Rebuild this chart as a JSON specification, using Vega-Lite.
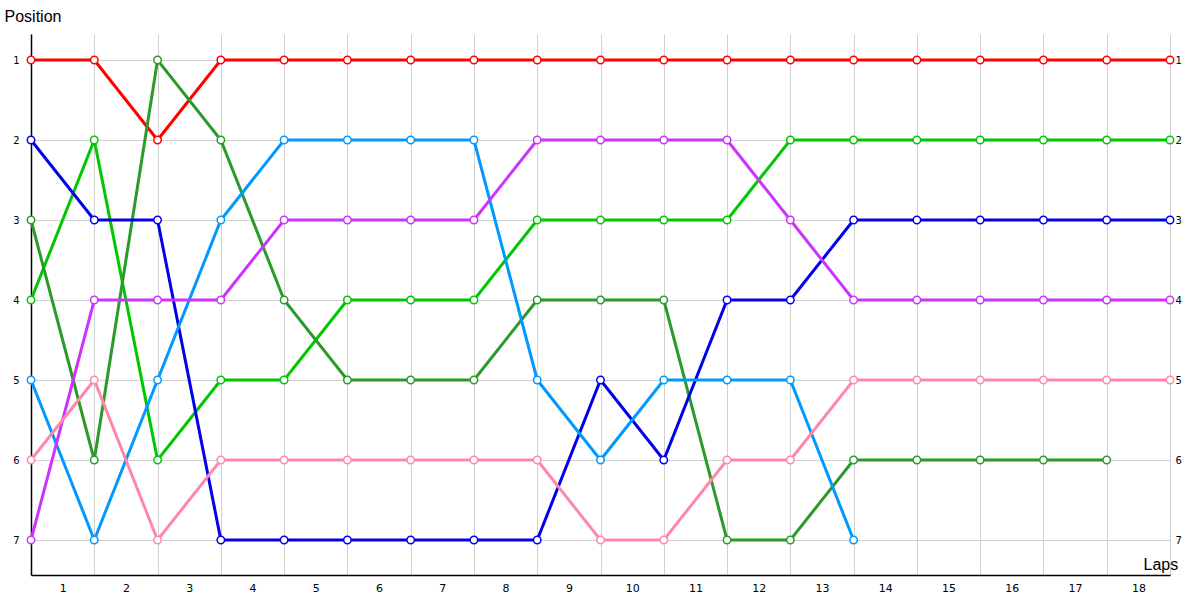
{
  "$schema": "https://vega.github.io/schema/vega-lite/v6.json",
  "width": 1139,
  "height": 541,
  "autosize": {"type": "none"},
  "padding": {"left": 31, "top": 34, "right": 30, "bottom": 25},
  "background": "white",
  "config": {"view": {"stroke": null}},
  "datasets": {
    "laps": [
      {"driver": "A", "lap": 0, "pos": 1}, {"driver": "A", "lap": 1, "pos": 1}, {"driver": "A", "lap": 2, "pos": 2}, {"driver": "A", "lap": 3, "pos": 1}, {"driver": "A", "lap": 4, "pos": 1}, {"driver": "A", "lap": 5, "pos": 1}, {"driver": "A", "lap": 6, "pos": 1}, {"driver": "A", "lap": 7, "pos": 1}, {"driver": "A", "lap": 8, "pos": 1}, {"driver": "A", "lap": 9, "pos": 1}, {"driver": "A", "lap": 10, "pos": 1}, {"driver": "A", "lap": 11, "pos": 1}, {"driver": "A", "lap": 12, "pos": 1}, {"driver": "A", "lap": 13, "pos": 1}, {"driver": "A", "lap": 14, "pos": 1}, {"driver": "A", "lap": 15, "pos": 1}, {"driver": "A", "lap": 16, "pos": 1}, {"driver": "A", "lap": 17, "pos": 1}, {"driver": "A", "lap": 18, "pos": 1},
      {"driver": "B", "lap": 0, "pos": 4}, {"driver": "B", "lap": 1, "pos": 2}, {"driver": "B", "lap": 2, "pos": 6}, {"driver": "B", "lap": 3, "pos": 5}, {"driver": "B", "lap": 4, "pos": 5}, {"driver": "B", "lap": 5, "pos": 4}, {"driver": "B", "lap": 6, "pos": 4}, {"driver": "B", "lap": 7, "pos": 4}, {"driver": "B", "lap": 8, "pos": 3}, {"driver": "B", "lap": 9, "pos": 3}, {"driver": "B", "lap": 10, "pos": 3}, {"driver": "B", "lap": 11, "pos": 3}, {"driver": "B", "lap": 12, "pos": 2}, {"driver": "B", "lap": 13, "pos": 2}, {"driver": "B", "lap": 14, "pos": 2}, {"driver": "B", "lap": 15, "pos": 2}, {"driver": "B", "lap": 16, "pos": 2}, {"driver": "B", "lap": 17, "pos": 2}, {"driver": "B", "lap": 18, "pos": 2},
      {"driver": "C", "lap": 0, "pos": 3}, {"driver": "C", "lap": 1, "pos": 6}, {"driver": "C", "lap": 2, "pos": 1}, {"driver": "C", "lap": 3, "pos": 2}, {"driver": "C", "lap": 4, "pos": 4}, {"driver": "C", "lap": 5, "pos": 5}, {"driver": "C", "lap": 6, "pos": 5}, {"driver": "C", "lap": 7, "pos": 5}, {"driver": "C", "lap": 8, "pos": 4}, {"driver": "C", "lap": 9, "pos": 4}, {"driver": "C", "lap": 10, "pos": 4}, {"driver": "C", "lap": 11, "pos": 7}, {"driver": "C", "lap": 12, "pos": 7}, {"driver": "C", "lap": 13, "pos": 6}, {"driver": "C", "lap": 14, "pos": 6}, {"driver": "C", "lap": 15, "pos": 6}, {"driver": "C", "lap": 16, "pos": 6}, {"driver": "C", "lap": 17, "pos": 6},
      {"driver": "D", "lap": 0, "pos": 2}, {"driver": "D", "lap": 1, "pos": 3}, {"driver": "D", "lap": 2, "pos": 3}, {"driver": "D", "lap": 3, "pos": 7}, {"driver": "D", "lap": 4, "pos": 7}, {"driver": "D", "lap": 5, "pos": 7}, {"driver": "D", "lap": 6, "pos": 7}, {"driver": "D", "lap": 7, "pos": 7}, {"driver": "D", "lap": 8, "pos": 7}, {"driver": "D", "lap": 9, "pos": 5}, {"driver": "D", "lap": 10, "pos": 6}, {"driver": "D", "lap": 11, "pos": 4}, {"driver": "D", "lap": 12, "pos": 4}, {"driver": "D", "lap": 13, "pos": 3}, {"driver": "D", "lap": 14, "pos": 3}, {"driver": "D", "lap": 15, "pos": 3}, {"driver": "D", "lap": 16, "pos": 3}, {"driver": "D", "lap": 17, "pos": 3}, {"driver": "D", "lap": 18, "pos": 3},
      {"driver": "E", "lap": 0, "pos": 5}, {"driver": "E", "lap": 1, "pos": 7}, {"driver": "E", "lap": 2, "pos": 5}, {"driver": "E", "lap": 3, "pos": 3}, {"driver": "E", "lap": 4, "pos": 2}, {"driver": "E", "lap": 5, "pos": 2}, {"driver": "E", "lap": 6, "pos": 2}, {"driver": "E", "lap": 7, "pos": 2}, {"driver": "E", "lap": 8, "pos": 5}, {"driver": "E", "lap": 9, "pos": 6}, {"driver": "E", "lap": 10, "pos": 5}, {"driver": "E", "lap": 11, "pos": 5}, {"driver": "E", "lap": 12, "pos": 5}, {"driver": "E", "lap": 13, "pos": 7},
      {"driver": "F", "lap": 0, "pos": 7}, {"driver": "F", "lap": 1, "pos": 4}, {"driver": "F", "lap": 2, "pos": 4}, {"driver": "F", "lap": 3, "pos": 4}, {"driver": "F", "lap": 4, "pos": 3}, {"driver": "F", "lap": 5, "pos": 3}, {"driver": "F", "lap": 6, "pos": 3}, {"driver": "F", "lap": 7, "pos": 3}, {"driver": "F", "lap": 8, "pos": 2}, {"driver": "F", "lap": 9, "pos": 2}, {"driver": "F", "lap": 10, "pos": 2}, {"driver": "F", "lap": 11, "pos": 2}, {"driver": "F", "lap": 12, "pos": 3}, {"driver": "F", "lap": 13, "pos": 4}, {"driver": "F", "lap": 14, "pos": 4}, {"driver": "F", "lap": 15, "pos": 4}, {"driver": "F", "lap": 16, "pos": 4}, {"driver": "F", "lap": 17, "pos": 4}, {"driver": "F", "lap": 18, "pos": 4},
      {"driver": "G", "lap": 0, "pos": 6}, {"driver": "G", "lap": 1, "pos": 5}, {"driver": "G", "lap": 2, "pos": 7}, {"driver": "G", "lap": 3, "pos": 6}, {"driver": "G", "lap": 4, "pos": 6}, {"driver": "G", "lap": 5, "pos": 6}, {"driver": "G", "lap": 6, "pos": 6}, {"driver": "G", "lap": 7, "pos": 6}, {"driver": "G", "lap": 8, "pos": 6}, {"driver": "G", "lap": 9, "pos": 7}, {"driver": "G", "lap": 10, "pos": 7}, {"driver": "G", "lap": 11, "pos": 6}, {"driver": "G", "lap": 12, "pos": 6}, {"driver": "G", "lap": 13, "pos": 5}, {"driver": "G", "lap": 14, "pos": 5}, {"driver": "G", "lap": 15, "pos": 5}, {"driver": "G", "lap": 16, "pos": 5}, {"driver": "G", "lap": 17, "pos": 5}, {"driver": "G", "lap": 18, "pos": 5}
    ]
  },
  "data": {"name": "laps"},
  "encoding": {
    "x": {
      "field": "lap",
      "type": "quantitative",
      "scale": {"domain": [0, 18], "nice": false, "zero": false},
      "axis": {
        "values": [0, 1, 2, 3, 4, 5, 6, 7, 8, 9, 10, 11, 12, 13, 14, 15, 16, 17, 18],
        "labelExpr": "datum.value == 0 ? '' : datum.label",
        "labelOffset": -31.6,
        "labelPadding": 7,
        "labelFont": "DejaVu Sans",
        "labelFontSize": 11,
        "labelColor": "#000000",
        "labelFlush": false,
        "labelOverlap": false,
        "ticks": false,
        "domainColor": "#000000",
        "domainWidth": 1.5,
        "grid": true,
        "gridColor": "#d0d0d0",
        "gridWidth": 1,
        "title": "Laps",
        "titleFont": "Liberation Sans",
        "titleFontSize": 16,
        "titleFontWeight": "normal",
        "titleColor": "#000000",
        "titleX": 1112,
        "titleY": -6,
        "titleAlign": "left",
        "titleBaseline": "alphabetic",
        "titleAnchor": null
      }
    },
    "color": {
      "field": "driver",
      "type": "nominal",
      "scale": {
        "domain": ["A", "B", "C", "D", "E", "F", "G"],
        "range": ["#ff0000", "#00c800", "#2a9a2a", "#0000ee", "#0099ff", "#cc33ff", "#ff88aa"]
      },
      "legend": null
    }
  },
  "layer": [
    {
      "mark": {"type": "line", "strokeWidth": 3},
      "encoding": {
        "y": {
          "field": "pos",
          "type": "quantitative",
          "scale": {"domain": [0.675, 7.4375], "reverse": true, "nice": false, "zero": false},
          "axis": {
            "orient": "left",
            "values": [1, 2, 3, 4, 5, 6, 7],
            "ticks": false,
            "labelPadding": 12,
            "labelFont": "DejaVu Sans",
            "labelFontSize": 10,
            "labelColor": "#000000",
            "domainColor": "#000000",
            "domainWidth": 1.5,
            "grid": true,
            "gridColor": "#d0d0d0",
            "gridWidth": 1,
            "title": "Position",
            "titleFont": "Liberation Sans",
            "titleFontSize": 16,
            "titleFontWeight": "normal",
            "titleColor": "#000000",
            "titleAngle": 0,
            "titleX": -27,
            "titleY": -13,
            "titleAlign": "left",
            "titleBaseline": "alphabetic",
            "titleAnchor": null
          }
        }
      }
    },
    {
      "mark": {"type": "point", "shape": "circle", "filled": true, "fill": "white", "size": 55, "strokeWidth": 1.5, "opacity": 1},
      "encoding": {
        "y": {
          "field": "pos",
          "type": "quantitative",
          "scale": {"domain": [0.675, 7.4375], "reverse": true, "nice": false, "zero": false},
          "axis": {
            "orient": "right",
            "values": [1, 2, 3, 4, 5, 6, 7],
            "ticks": false,
            "domain": false,
            "grid": false,
            "labelPadding": 5,
            "labelFont": "DejaVu Sans",
            "labelFontSize": 10,
            "labelColor": "#000000",
            "title": null
          }
        },
        "fill": {"value": "white"},
        "stroke": {
          "field": "driver",
          "type": "nominal",
          "scale": {
            "domain": ["A", "B", "C", "D", "E", "F", "G"],
            "range": ["#ff0000", "#00c800", "#2a9a2a", "#0000ee", "#0099ff", "#cc33ff", "#ff88aa"]
          },
          "legend": null
        }
      }
    }
  ],
  "resolve": {"axis": {"y": "independent"}}
}
